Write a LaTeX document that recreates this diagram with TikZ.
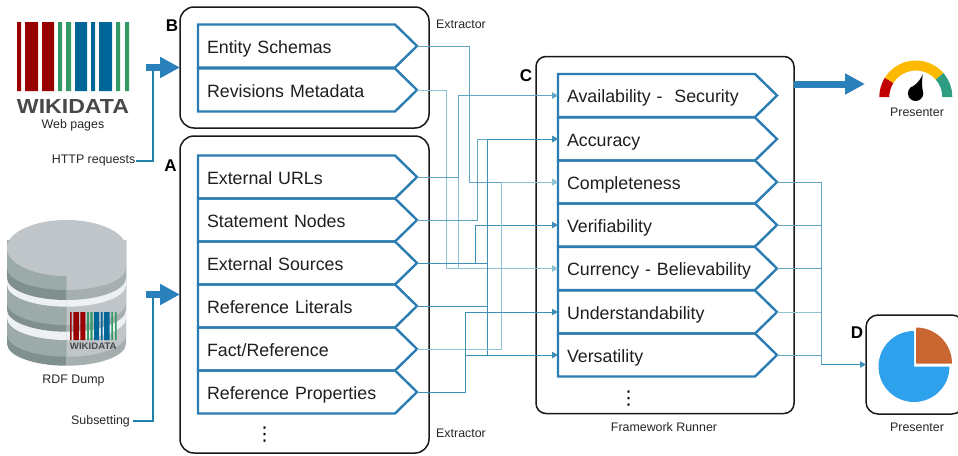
\documentclass[tikz,border=0pt]{standalone}
\usepackage{fontspec}
\usepackage{graphicx}
\setmainfont{Liberation Sans}
\newfontfamily\dejavu{DejaVu Sans}
\usetikzlibrary{arrows.meta,shapes.symbols}
\definecolor{rowblue}{HTML}{2A7CB2}
\definecolor{fatblue}{HTML}{2A80BB}
\definecolor{linedark}{HTML}{3F8FB8}
\definecolor{linemid}{HTML}{62A6C4}
\definecolor{linelight}{HTML}{90C2D6}
\definecolor{feed}{HTML}{1F80A8}
\definecolor{wred}{HTML}{990000}
\definecolor{wgreen}{HTML}{339966}
\definecolor{wblue}{HTML}{006699}
\definecolor{wgrey}{HTML}{484848}
\definecolor{dbtop}{HTML}{C0C5C9}
\definecolor{dbleft}{HTML}{9CABA9}
\definecolor{dbdark}{HTML}{7F908E}
\definecolor{dbdarkr}{HTML}{A6AFAF}
\definecolor{dbwhite}{HTML}{EEF1F1}
\definecolor{gaugered}{HTML}{C00000}
\definecolor{gaugeyellow}{HTML}{FDB900}
\definecolor{gaugegreen}{HTML}{2E9E83}
\definecolor{pieblue}{HTML}{2EA1EC}
\definecolor{pieorange}{HTML}{C96631}
\newcommand\dblayer[3]{%
  \fill[#2] (7,240) -- (7,#1) .. controls (7,#1+12.2) and (33.5,#1+22) .. (66.5,#1+22) -- (66.5,240) -- cycle;
  \fill[#3] (126,240) -- (126,#1) .. controls (126,#1+12.2) and (99.5,#1+22) .. (66.5,#1+22) -- (66.5,240) -- cycle;}
\newcommand\wikibars{%
  \fill[wred] (17,22) rectangle (21,91) (25,22) rectangle (38,91) (42,22) rectangle (54,91);
  \fill[wgreen] (58,22) rectangle (62,91) (66,22) rectangle (71,91) (116,22) rectangle (120,91) (125,22) rectangle (129,91);
  \fill[wblue] (75,22) rectangle (87,91) (91,22) rectangle (95,91) (99,22) rectangle (112,91);}
\tikzset{
  x=1pt,y=-1pt,
  container/.style={draw=black!90,line width=1.5pt,rounded corners=#1,fill=white,inner sep=0pt,outer sep=0pt},
  rowbox/.style={draw=rowblue,line width=2.4pt,signal,signal to=east,signal from=nowhere,signal pointer angle=88.6,
    anchor=west,outer sep=0pt,inner xsep=9pt,inner ysep=13.5pt,text width=179pt,text height=15pt,text depth=1pt,
    align=left,font=\fontsize{17.8}{20}\selectfont,text=black!88},
  small/.style={font=\fontsize{12.4}{14}\selectfont,text=black!85,inner sep=0pt},
  tag/.style={font=\fontsize{17}{20}\selectfont\bfseries,inner sep=0pt},
  dotstext/.style={inner sep=0pt,font=\dejavu\fontsize{19}{21}\selectfont},
  conn/.style={line width=1pt,draw=#1},
  tipped/.style={line width=1pt,draw=#1,-{Triangle[length=6pt,width=6.5pt]}},
  feedline/.style={line width=1.3pt,draw=feed},
  fat/.style={line width=7pt,draw=fatblue,-{Triangle[length=20pt,width=20pt]}},
}
\begin{document}
\begin{tikzpicture}
\clip (0,0) rectangle (958,455);
% Wikidata logo
\wikibars
\node[inner sep=0pt,text=wgrey] (wiki) at (73,106) {\resizebox{112pt}{14pt}{\bfseries WIKIDATA}};
\node[small] (web) at (73,125) {Web pages};
\node[small,anchor=east] (http) at (135.5,161) {HTTP requests};
% Database
\dblayer{343.7}{dbdark}{dbdarkr}
\dblayer{334.7}{dbleft}{dbtop}
\dblayer{318}{dbwhite}{dbwhite}
\dblayer{309.7}{dbdark}{dbdarkr}
\dblayer{303}{dbleft}{dbtop}
\dblayer{284.7}{dbwhite}{dbwhite}
\dblayer{278}{dbdark}{dbdarkr}
\dblayer{268}{dbleft}{dbtop}
\fill[dbtop] (66.5,248) ellipse [x radius=59.7,y radius=28];
\begin{scope}[shift={(70,312)},xscale=.417,yscale=.406,shift={(-17,-22)}]
\wikibars
\end{scope}
\node[inner sep=0pt,text=wgrey] (miniwiki) at (93.3,346.5) {\resizebox{46.7pt}{6.5pt}{\bfseries WIKIDATA}};
\node[small] (rdf) at (73.5,381) {RDF Dump};
\node[small,anchor=east] (subset) at (130,421) {Subsetting};
% Containers
\node[container=14pt,minimum width=249pt,minimum height=121pt] (boxB) at (304.5,67.5) {};
\node[container=14pt,minimum width=249pt,minimum height=317pt] (boxA) at (304.5,294.5) {};
\node[container=10pt,minimum width=258pt,minimum height=357pt] (boxC) at (665,235) {};
\node[container=12pt,minimum width=98pt,minimum height=99pt] (boxD) at (915,364.5) {};
% Rows
\node[rowbox] (b1) at (198,46) {Entity Schemas};
\node[rowbox] (b2) at (198,90) {Revisions Metadata};
\node[rowbox] (a1) at (198,177) {External URLs};
\node[rowbox] (a2) at (198,220) {Statement Nodes};
\node[rowbox] (a3) at (198,263) {External Sources};
\node[rowbox] (a4) at (198,306) {Reference Literals};
\node[rowbox] (a5) at (198,349) {Fact/Reference};
\node[rowbox] (a6) at (198,392) {Reference Properties};
\node[rowbox] (c1) at (558,95.5) {\mbox{Availability -\ \ Security}};
\node[rowbox] (c2) at (558,139) {Accuracy};
\node[rowbox] (c3) at (558,182) {Completeness};
\node[rowbox] (c4) at (558,225) {Verifiability};
\node[rowbox] (c5) at (558,268.5) {\mbox{Currency - Believability}};
\node[rowbox] (c6) at (558,312) {Understandability};
\node[rowbox] (c7) at (558,355) {Versatility};
% Tags and captions
\node[tag] (tagB) at (172,25.5) {B};
\node[tag] (tagA) at (170.5,165.5) {A};
\node[tag] (tagC) at (526,75.5) {C};
\node[tag] (tagD) at (857,333) {D};
\node[small,anchor=west] (exB) at (436,24) {Extractor};
\node[small,anchor=west] (exA) at (436,433) {Extractor};
\node[small] (fw) at (664,427) {Framework Runner};
\node[small] (pres1) at (917,112) {Presenter};
\node[small] (pres2) at (917,427) {Presenter};
\node[dotstext] (dotsA) at (264.5,434.5) {⋮};
\node[dotstext] (dotsC) at (628.5,398.5) {⋮};
% Feeds
\coordinate (fatBs) at (146,67.5);
\coordinate (fatAs) at (146,294.5);
\draw[feedline] (http.east) -- (153,161) -- (153,68);
\draw[feedline] (subset.east) ++(3,0) -- (153,421) -- (153,294);
\draw[fat] (fatBs) -- (boxB.west);
\draw[fat] (fatAs) -- (boxA.west);
% Connectors
\draw[tipped=linemid] (b1.east) -- (469,46) -- (469,182) -- (c3.west);
\draw[tipped=linelight] (b2.east) -- (446,90) -- (446,268.5) -- (c5.west);
\draw[conn=linelight] (a1.east) -- (458,177) -- (458,268.5);
\draw[tipped=linemid] (a1.east) -- (458,177) -- (458,95.5) -- (c1.west);
\draw[tipped=linemid] (a2.east) -- (477,220) -- (477,139) -- (c2.west);
\draw[tipped=linedark] (a3.east) -- (487,263) -- (487,139) -- (c2.west);
\draw[tipped=linedark] (a3.east) -- (487,263) -- (487,355) -- (c7.west);
\draw[tipped=linedark] (a3.east) -- (475,263) -- (475,225) -- (c4.west);
\draw[conn=linedark] (a4.east) -- (487,306);
\draw[tipped=linelight] (a5.east) -- (501,349) -- (501,182) -- (c3.west);
\draw[tipped=linedark] (a6.east) -- (465,392) -- (465,312) -- (c6.west);
\draw[conn=linedark] (465,355) -- (487,355);
\draw[conn=linemid] (c3.east) -- (821,182) -- (821,364.5);
\draw[conn=linemid] (c4.east) -- (821,225);
\draw[conn=linemid] (c5.east) -- (821,268.5);
\draw[conn=linelight] (c6.east) -- (821,312);
\draw[conn=linemid] (c7.east) -- (821,355);
\draw[tipped=linedark] (821,364.5) -- (boxD.west);
% Gauge
\coordinate (gaugein) at (865,84);
\draw[fat] (boxC.east |- gaugein) -- (gaugein);
\begin{scope}[shift={(915.8,97)},y=1pt]
\fill[gaugered] (180:36.5) arc (180:148:36.5) -- (148:26.5) arc (148:180:26.5) -- cycle;
\fill[gaugeyellow] (148:36.5) arc (148:41:36.5) -- (41:26.5) arc (41:148:26.5) -- cycle;
\fill[gaugegreen] (41:36.5) arc (41:0:36.5) -- (0:26.5) arc (0:41:26.5) -- cycle;
\fill[black] (7,22.7) .. controls (5.5,13) and (6.5,8) .. (7.5,3.7) arc (0:-230:7.7) .. controls (-2,11) and (3,14) .. cycle;
\end{scope}
% Pie
\begin{scope}[shift={(914,366.5)},y=1pt]
\fill[pieblue] (0,0) -- (0,35.5) arc (90:360:35.5) -- cycle;
\end{scope}
\begin{scope}[shift={(916,363.5)},y=1pt]
\fill[pieorange] (0,0) -- (0,36) arc (90:0:36) -- cycle;
\end{scope}
\end{tikzpicture}
\end{document}
